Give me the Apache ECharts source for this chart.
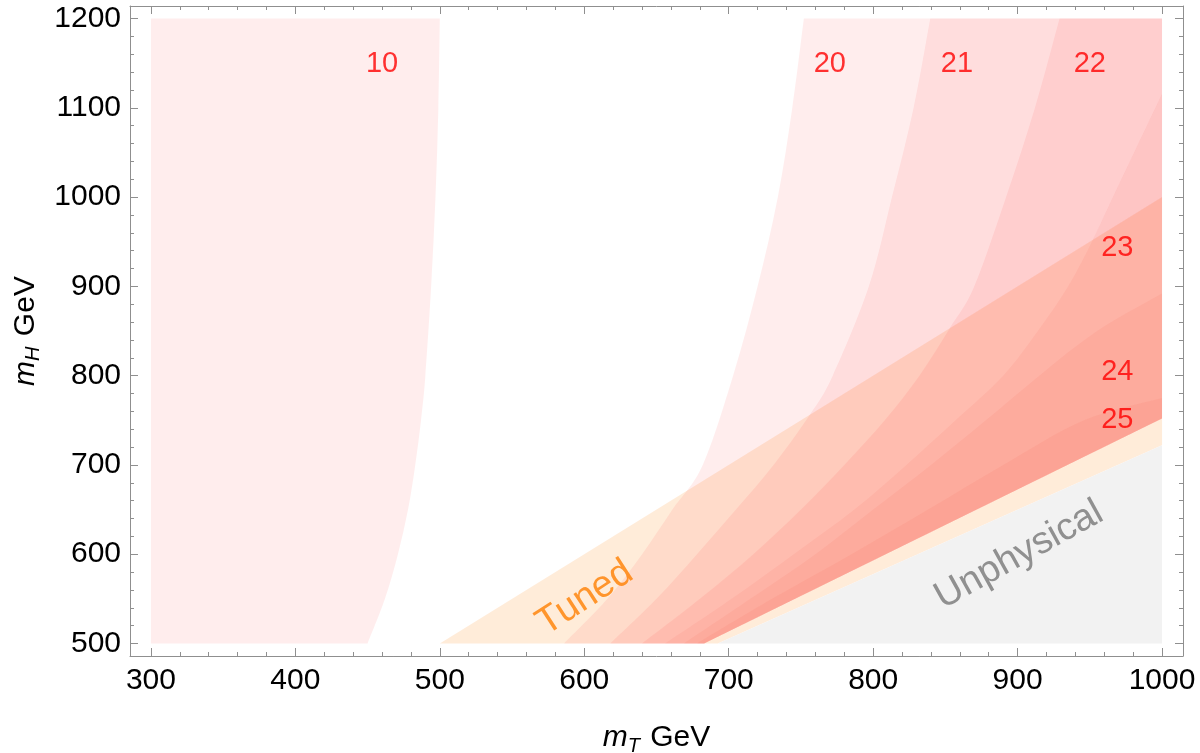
<!DOCTYPE html>
<html>
<head>
<meta charset="utf-8">
<script src="https://cdn.jsdelivr.net/npm/echarts@6/dist/echarts.min.js"></script>
<style>
  html, body { margin: 0; padding: 0; background: #fff; }
  #main { width: 1200px; height: 753px; }
</style>
</head>
<body>
<div id="main"></div>
<script>
// tick labels
var xMajor = [300, 400, 500, 600, 700, 800, 900, 1000];
var yMajor = [500, 600, 700, 800, 900, 1000, 1100, 1200];

// region "10" right edge
var c10X = [450, 462, 471, 478, 483, 487, 490, 494, 497, 499, 500];
var c10Y = [500, 550, 600, 650, 700, 750, 800, 900, 1000, 1100, 1200];

// contour boundaries 20..25
var c20X = [586, 616, 640, 661, 682, 703, 720, 734, 744, 752];
var c20Y = [500, 550, 600, 650, 700, 800, 900, 1000, 1100, 1200];
var c21X = [618, 650, 678, 705, 731, 756, 772, 797, 813, 828, 839.5];
var c21Y = [500, 550, 600, 650, 700, 756, 800, 900, 1000, 1100, 1200];
var c22X = [640, 680, 717, 750, 780, 808, 832, 853, 870, 892, 912, 929];
var c22Y = [500, 550, 600, 650, 700, 750, 800, 853, 900, 1000, 1100, 1200];
var c23X = [656, 702, 745, 787, 823, 857, 890, 914, 935, 952, 966, 1000];
var c23Y = [500, 550, 600, 650, 700, 750, 800, 850, 900, 952, 1000, 1116];
var c24X = [669, 715, 760, 800, 840, 878, 915, 955, 1000];
var c24Y = [500, 550, 600, 650, 700, 750, 800, 850, 892];
var c25X = [678, 730, 785, 838, 890, 946, 1000];
var c25Y = [500, 550, 600, 650, 700, 750, 775];

// straight edges
var redLowX = [683, 1000];
var redLowY = [500, 752];
var unphysX = [692.5, 1000];
var unphysY = [500, 722];
var tunedX = [500, 1000];
var tunedY = [500, 1000];

// texts
var levelText = ['10', '20', '21', '22', '23', '24', '25'];
var levelX = [460, 770, 858, 950, 969, 969, 969];
var levelY = [1149, 1149, 1149, 1149, 943, 804, 750];

var xMin = 300, xMax = 1000, yMin = 500, yMax = 1200;

function zip(xs, ys) {
  var out = [];
  for (var i = 0; i < xs.length; i++) out.push([xs[i], ys[i]]);
  return out;
}

// a region is a list of pieces, each piece straight or smooth
function levelRegion(xs, ys) {
  var edge = zip(redLowX, redLowY);
  if (xs[xs.length - 1] < xMax) edge.push([xMax, yMax]);
  return [{ pts: edge }, { pts: zip(xs, ys).reverse(), smooth: true }];
}

var pink = 'rgba(255,0,0,0.072)';
var pinkIn = 'rgba(235,55,35,0.062)';
var regions = [
  { parts: [{ pts: [[xMin, yMin], [xMin, yMax]] }, { pts: zip(c10X, c10Y).reverse(), smooth: true }], fill: pink },
  { parts: [{ pts: [[tunedX[0], tunedY[0]], [unphysX[0], unphysY[0]], [unphysX[1], unphysY[1]], [tunedX[1], tunedY[1]]] }], fill: 'rgba(255,128,0,0.15)' },
  { parts: levelRegion(c20X, c20Y), fill: pink },
  { parts: levelRegion(c21X, c21Y), fill: pink },
  { parts: levelRegion(c22X, c22Y), fill: pink },
  { parts: levelRegion(c23X, c23Y), fill: pinkIn },
  { parts: levelRegion(c24X, c24Y), fill: pinkIn },
  { parts: levelRegion(c25X, c25Y), fill: pinkIn },
  { parts: [{ pts: [[unphysX[0], unphysY[0]], [xMax, yMin], [unphysX[1], unphysY[1]]] }], fill: '#f2f2f2' }
];

function f(n) { return n.toFixed(2); }

// svg path: straight pieces with L, smooth pieces with catmull-rom beziers
function buildPath(parts, api) {
  var d = '';
  parts.forEach(function (part) {
    var p = part.pts.map(function (q) { return api.coord(q); });
    if (!d) d = 'M' + f(p[0][0]) + ' ' + f(p[0][1]);
    else d += 'L' + f(p[0][0]) + ' ' + f(p[0][1]);
    for (var i = 0; i < p.length - 1; i++) {
      if (!part.smooth) {
        d += 'L' + f(p[i + 1][0]) + ' ' + f(p[i + 1][1]);
        continue;
      }
      var p0 = p[Math.max(i - 1, 0)], p1 = p[i], p2 = p[i + 1], p3 = p[Math.min(i + 2, p.length - 1)];
      var c1x = p1[0] + (p2[0] - p0[0]) / 6, c1y = p1[1] + (p2[1] - p0[1]) / 6;
      var c2x = p2[0] - (p3[0] - p1[0]) / 6, c2y = p2[1] - (p3[1] - p1[1]) / 6;
      d += 'C' + f(c1x) + ' ' + f(c1y) + ' ' + f(c2x) + ' ' + f(c2y) + ' ' + f(p2[0]) + ' ' + f(p2[1]);
    }
  });
  return d + 'Z';
}

var xMinor = [], yMinor = [];
for (var v = 300; v <= 1000; v += 20) if (v % 100) xMinor.push(v);
for (var w = 500; w <= 1200; w += 20) if (w % 100) yMinor.push(w);

var font = 'Liberation Sans, Arial, sans-serif';
var frame = '#8f8f8f';

function xAx(pos, ticks, len, main) {
  return {
    type: 'value', position: pos, min: 285.5, max: 1014.5,
    axisLine: { show: main, lineStyle: { color: frame, width: 1 } },
    axisTick: { show: true, inside: true, length: len, customValues: ticks, lineStyle: { color: frame } },
    axisLabel: { show: main && pos === 'bottom', customValues: xMajor, margin: 10,
      formatter: function (val) { return String(val); },
      fontSize: 30, color: '#000', fontFamily: font },
    splitLine: { show: false }
  };
}
function yAx(pos, ticks, len, main) {
  return {
    type: 'value', position: pos, min: 486, max: 1214,
    axisLine: { show: main, lineStyle: { color: frame, width: 1 } },
    axisTick: { show: true, inside: true, length: len, customValues: ticks, lineStyle: { color: frame } },
    axisLabel: { show: main && pos === 'left', customValues: yMajor, margin: 9,
      formatter: function (val) { return String(val); },
      fontSize: 30, color: '#000', fontFamily: font },
    splitLine: { show: false }
  };
}

var xAxes = [xAx('bottom', xMajor, 8, true), xAx('bottom', xMinor, 4, false),
             xAx('top', xMajor, 8, true), xAx('top', xMinor, 4, false)];
xAxes[0].name = '{i|m}{s|T} GeV';
xAxes[0].nameLocation = 'middle';
xAxes[0].nameGap = 64;
xAxes[0].nameTextStyle = { fontSize: 30, color: '#000', fontFamily: font, lineHeight: 36,
  rich: {
    i: { fontStyle: 'italic', fontSize: 30, fontFamily: font, lineHeight: 36 },
    s: { fontStyle: 'italic', fontSize: 20, fontFamily: font, lineHeight: 20, padding: [16, 2, 0, 0], verticalAlign: 'top' }
  } };

var yAxes = [yAx('left', yMajor, 8, true), yAx('left', yMinor, 4, false),
             yAx('right', yMajor, 8, true), yAx('right', yMinor, 4, false)];
yAxes[0].name = '{i|m}{s|H} GeV';
yAxes[0].nameLocation = 'middle';
yAxes[0].nameGap = 86;
yAxes[0].nameTextStyle = xAxes[0].nameTextStyle;

var myChart = echarts.init(document.getElementById('main'));
var option = {
  animation: false,
  grid: { left: 130, right: 17, top: 6, bottom: 97, outerBoundsMode: 'none' },
  xAxis: xAxes,
  yAxis: yAxes,
  series: [
    {
      type: 'custom',
      silent: true,
      data: regions.map(function (r, i) { return i; }),
      renderItem: function (params, api) {
        var r = regions[params.dataIndex];
        return {
          type: 'path',
          shape: { pathData: buildPath(r.parts, api) },
          style: { fill: r.fill }
        };
      }
    },
    {
      type: 'scatter',
      symbolSize: 0,
      silent: true,
      data: levelText.map(function (t, i) { return [levelX[i], levelY[i], t]; }),
      label: { show: true, position: 'inside', formatter: function (p) { return p.data[2]; },
        color: '#ff0000', fontSize: 29, fontFamily: font }
    },
    {
      type: 'scatter',
      symbolSize: 0,
      silent: true,
      data: [[600.5, 551, 'Tuned']],
      label: { show: true, position: 'inside', formatter: function (p) { return p.data[2]; },
        rotate: 33, color: '#ff7f00', fontSize: 38, fontFamily: font }
    },
    {
      type: 'scatter',
      symbolSize: 0,
      silent: true,
      data: [[901, 599, 'Unphysical']],
      label: { show: true, position: 'inside', formatter: function (p) { return p.data[2]; },
        rotate: 29, color: '#777777', fontSize: 38, fontFamily: font }
    }
  ]
};
option && myChart.setOption(option);
</script>
</body>
</html>
